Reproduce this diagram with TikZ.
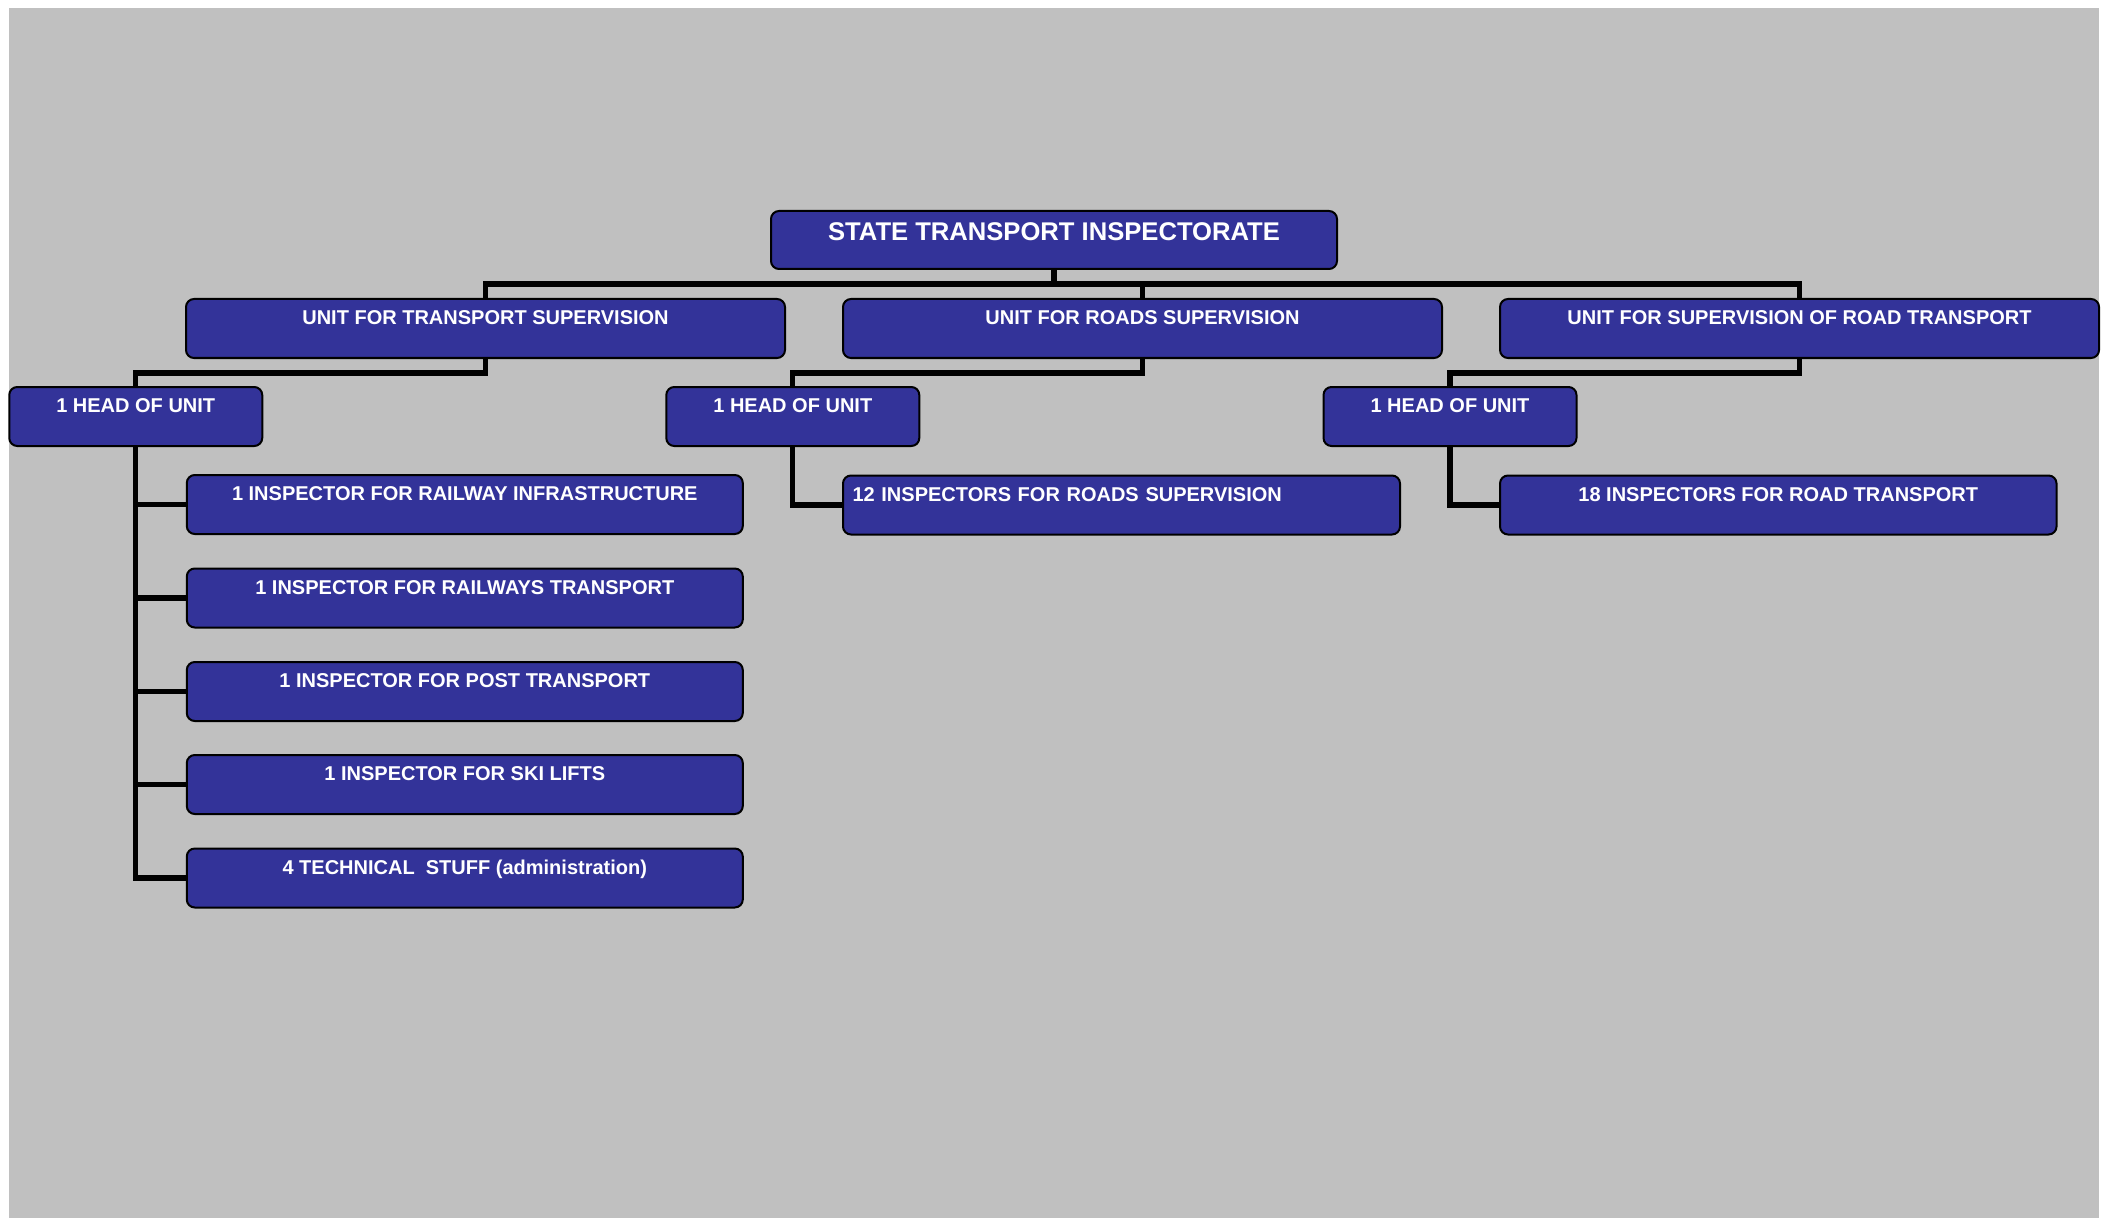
\documentclass[tikz,border=0pt]{standalone}
\usepackage{fontspec}
\setmainfont{Liberation Sans}
\usetikzlibrary{calc}
\definecolor{boxblue}{RGB}{51,51,153}
\definecolor{bggray}{RGB}{192,192,192}
\begin{document}
\begin{tikzpicture}[x=0.5pt,y=-0.5pt,
  box/.style={draw=black,fill=boxblue,line width=1pt,rounded corners=4pt,
    text=white,font=\bfseries\fontsize{10}{12}\selectfont,inner sep=0pt,
    text height=12.75pt,text depth=16.75pt,align=center},
  unitbox/.style={box,minimum width=299.5pt},
  headbox/.style={box,minimum width=126.5pt},
  inspbox/.style={box,minimum width=278pt},
  rootbox/.style={box,minimum width=283pt,font=\bfseries\fontsize{12.8}{15}\selectfont,
    text height=15pt,text depth=14pt},
  conn/.style={draw=black,line width=2.6pt}]
\useasboundingbox (0,0) rectangle (2107,1219);
\fill[bggray] (9,8) rectangle (2099,1218);

\node[rootbox] (root) at (1054,240) {STATE TRANSPORT INSPECTORATE};
\node[unitbox] (unit1) at (485.5,328.5) {UNIT FOR TRANSPORT SUPERVISION};
\node[unitbox] (unit2) at (1142.5,328.5) {UNIT FOR ROADS SUPERVISION};
\node[unitbox] (unit3) at (1799.5,328.5) {UNIT FOR SUPERVISION OF ROAD TRANSPORT};
\node[headbox] (head1) at (135.75,416.5) {1 HEAD OF UNIT};
\node[headbox] (head2) at (792.8,416.5) {1 HEAD OF UNIT};
\node[headbox] (head3) at (1450,416.5) {1 HEAD OF UNIT};
\node[inspbox] (i1) at (464.8,504.5) {1 INSPECTOR FOR RAILWAY INFRASTRUCTURE};
\node[inspbox] (i2) at (464.8,598) {1 INSPECTOR FOR RAILWAYS TRANSPORT};
\node[inspbox] (i3) at (464.8,691.5) {1 INSPECTOR FOR POST TRANSPORT};
\node[inspbox] (i4) at (464.8,784.5) {1 INSPECTOR FOR SKI LIFTS};
\node[inspbox] (i5) at (464.8,878) {4 TECHNICAL~~STUFF (administration)};
\node[box,text width=269pt,align=left,inner xsep=4.75pt] (i12) at (1121.5,505) {12 INSPECTORS FOR ROADS SUPERVISION};
\node[inspbox,minimum width=278.25pt] (i18) at (1778.25,505) {18 INSPECTORS FOR ROAD TRANSPORT};

\coordinate (bus) at (1054,284);
\draw[conn] (root.south) -- (bus);
\draw[conn] (unit1.north) |- (bus) -| (unit3.north);
\draw[conn] (unit2.north) -- (unit2.north |- bus);

\draw[conn] (unit1.south) -- ++(0,14) -| (head1.north);
\draw[conn] (unit2.south) -- ++(0,14) -| (head2.north);
\draw[conn] (unit3.south) -- ++(0,14) -| (head3.north);

\draw[conn] (head1.south) |- (i5.west);
\draw[conn] (head1.south |- i1.west) -- (i1.west);
\draw[conn] (head1.south |- i2.west) -- (i2.west);
\draw[conn] (head1.south |- i3.west) -- (i3.west);
\draw[conn] (head1.south |- i4.west) -- (i4.west);

\draw[conn] (head2.south) |- (i12.west);
\draw[conn] (head3.south) |- (i18.west);
\end{tikzpicture}
\end{document}
